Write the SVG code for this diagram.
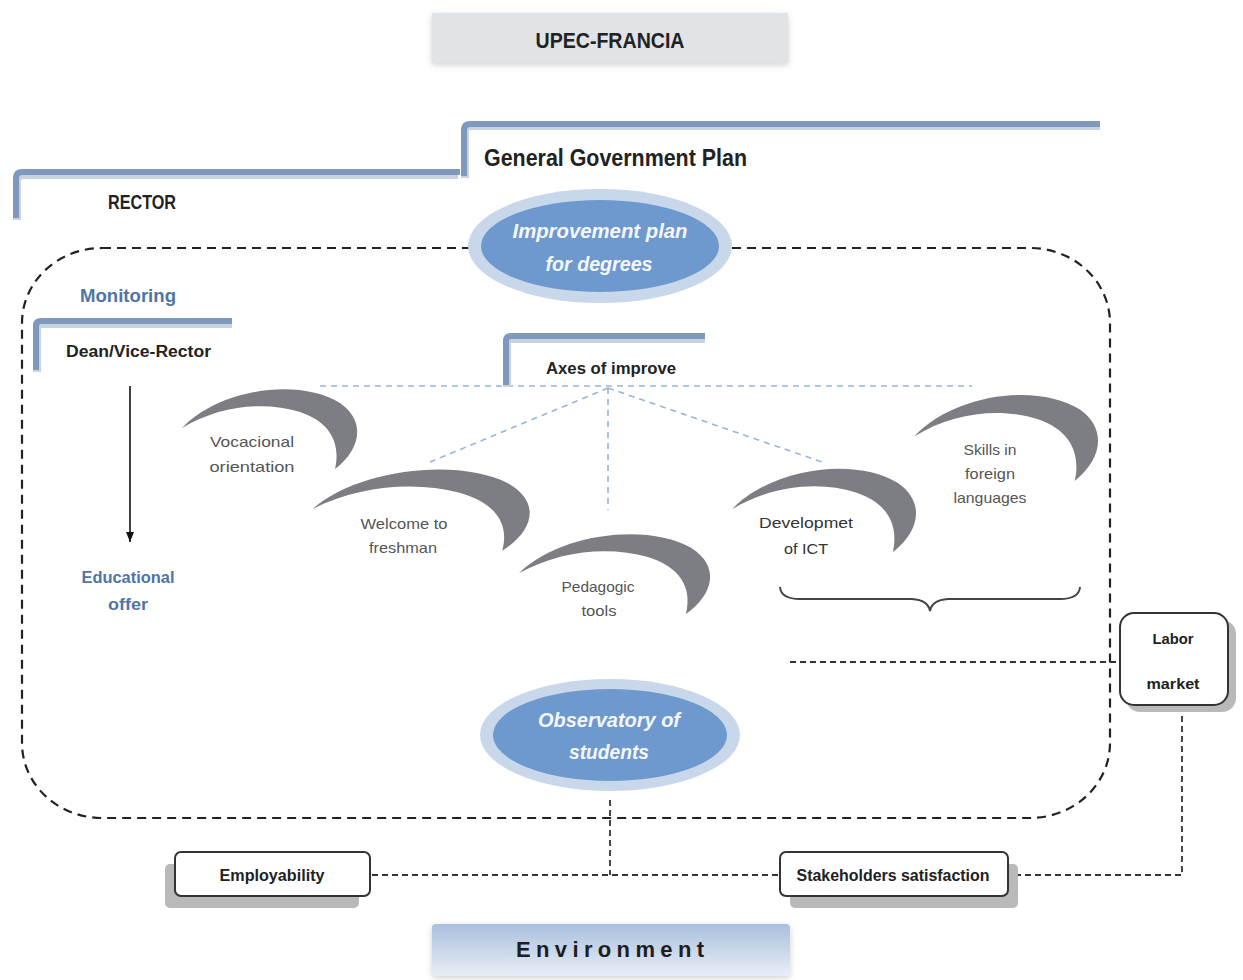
<svg xmlns="http://www.w3.org/2000/svg" width="1243" height="980" viewBox="0 0 1243 980">
  <style>
    .t { font-family: "Liberation Sans", Arial, sans-serif; }
    .hdr { font-weight: bold; fill: #222; }
    .blue { font-weight: bold; fill: #4f74a8; }
    .gray { fill: #555; font-size: 15px; }
    .ell { font-weight: bold; font-style: italic; fill: #f4f7fb; font-size: 21px; }
    .bracket { fill: none; stroke: #7f98bd; stroke-width: 6; stroke-linejoin: round; }
    .bshadow { fill: none; stroke: #c9d3e0; stroke-width: 8; stroke-linejoin: round; }
    .dash { fill: none; stroke: #222; stroke-width: 2.2; stroke-dasharray: 9 6; }
    .dashthin { fill: none; stroke: #333; stroke-width: 1.8; stroke-dasharray: 6 4; }
    .axis { fill: none; stroke: #98b4d8; stroke-width: 1.6; stroke-dasharray: 6 5; }
    .cres { fill: #7c7e83; }
    .box { fill: #fff; stroke: #333; stroke-width: 2; }
    .boxsh { fill: #b9b9b9; }
  </style>
  <defs>
    <marker id="arrow" viewBox="0 0 10 10" refX="10" refY="5" markerWidth="10" markerHeight="10" orient="auto" markerUnits="userSpaceOnUse">
      <path d="M0,1 L10,5 L0,9 Z" fill="#111"/>
    </marker>
    <path id="crescent" d="M 2,45 C 40,5 120,-5 160,20 C 186,38 181,66 155,86 C 161,60 150,39 120,29 C 85,18 40,22 2,45 Z"/>
    <linearGradient id="envGrad" x1="0" y1="0" x2="0" y2="1">
      <stop offset="0" stop-color="#a9bfdd"/>
      <stop offset="1" stop-color="#e8eef6"/>
    </linearGradient>
    <filter id="soft" x="-10%" y="-30%" width="120%" height="160%">
      <feDropShadow dx="0" dy="2" stdDeviation="3" flood-color="#999" flood-opacity="0.45"/>
    </filter>
  </defs>

  <rect width="1243" height="980" fill="#fff"/>

  <!-- connectors -->
  <g id="connectors">
    <!-- main boundary -->
    <rect class="dash" x="22" y="248" width="1088" height="570" rx="80" ry="75"/>
    <!-- axes of improvement fan -->
    <line class="axis" x1="320" y1="386" x2="972" y2="386"/>
    <line class="axis" x1="608" y1="388" x2="430" y2="462"/>
    <line class="axis" x1="608" y1="388" x2="608" y2="510"/>
    <line class="axis" x1="608" y1="388" x2="822" y2="462"/>
    <!-- dean to educational offer -->
    <line x1="130" y1="386" x2="130" y2="542" stroke="#111" stroke-width="1.6" marker-end="url(#arrow)"/>
    <!-- labor market -->
    <line class="dashthin" x1="790" y1="662" x2="1120" y2="662"/>
    <polyline class="dashthin" points="1182,706 1182,875 1010,875"/>
    <!-- observatory to outcomes -->
    <polyline class="dashthin" points="610,800 610,875"/>
    <line class="dashthin" x1="372" y1="875" x2="780" y2="875"/>
    <!-- brace -->
    <path d="M 780,587 Q 781,599 800,599 L 912,599 Q 928,600 930,611 Q 932,600 948,599 L 1060,599 Q 1079,599 1080,587" fill="none" stroke="#444" stroke-width="2"/>
  </g>

  <!-- header -->
  <g id="upec">
    <rect x="432" y="13" width="356" height="50" fill="#e1e4e7" filter="url(#soft)"/>
    <text class="t hdr" x="610" y="48" font-size="22" text-anchor="middle" textLength="149" lengthAdjust="spacingAndGlyphs">UPEC-FRANCIA</text>
  </g>

  <g id="general-plan">
    <path class="bshadow" d="M 465,178 L 465,131 Q 465,126 471,126 L 1100,126"/>
    <path class="bracket" d="M 464,176 L 464,130 Q 464,124 470,124 L 1100,124"/>
    <text class="t hdr" x="484" y="166" font-size="24" textLength="263" lengthAdjust="spacingAndGlyphs">General Government Plan</text>
  </g>

  <g id="rector">
    <path class="bshadow" d="M 17,220 L 17,181 Q 17,175 23,175 L 458,175"/>
    <path class="bracket" d="M 16,218 L 16,178 Q 16,172 22,172 L 460,172"/>
    <text class="t hdr" x="108" y="209" font-size="20" textLength="68" lengthAdjust="spacingAndGlyphs">RECTOR</text>
  </g>

  <g id="improvement-plan">
    <ellipse cx="600" cy="246" rx="132" ry="57" fill="#c9d7ea"/>
    <ellipse cx="600" cy="246" rx="119" ry="46" fill="#6e99cf"/>
    <text class="t ell" x="600" y="238" text-anchor="middle" textLength="175" lengthAdjust="spacingAndGlyphs">Improvement plan</text>
    <text class="t ell" x="599" y="271" text-anchor="middle" textLength="107" lengthAdjust="spacingAndGlyphs">for degrees</text>
  </g>

  <g id="monitoring">
    <text class="t blue" x="80" y="302" font-size="18" textLength="96" lengthAdjust="spacingAndGlyphs">Monitoring</text>
  </g>

  <g id="dean">
    <path class="bshadow" d="M 37,372 L 37,328 Q 37,324 42,324 L 232,324"/>
    <path class="bracket" d="M 36,370 L 36,326 Q 36,321 41,321 L 232,321"/>
    <text class="t hdr" x="66" y="357" font-size="16" textLength="145" lengthAdjust="spacingAndGlyphs">Dean/Vice-Rector</text>
  </g>

  <g id="educational-offer">
    <text class="t blue" x="128" y="583" font-size="17" text-anchor="middle" textLength="93" lengthAdjust="spacingAndGlyphs">Educational</text>
    <text class="t blue" x="128" y="610" font-size="17" text-anchor="middle" textLength="40" lengthAdjust="spacingAndGlyphs">offer</text>
  </g>

  <g id="axes">
    <path class="bshadow" d="M 507,387 L 507,343 Q 507,339 512,339 L 705,339"/>
    <path class="bracket" d="M 506,385 L 506,341 Q 506,336 511,336 L 705,336"/>
    <text class="t hdr" x="546" y="374" font-size="16" textLength="130" lengthAdjust="spacingAndGlyphs">Axes of improve</text>
  </g>

  <g id="vocacional">
    <use href="#crescent" class="cres" transform="translate(180,383)"/>
    <text class="t gray" x="252" y="447" text-anchor="middle" textLength="84" lengthAdjust="spacingAndGlyphs">Vocacional</text>
    <text class="t gray" x="252" y="472" text-anchor="middle" textLength="85" lengthAdjust="spacingAndGlyphs">orientation</text>
  </g>

  <g id="welcome">
    <use href="#crescent" class="cres" transform="translate(310,463) scale(1.24,1.02)"/>
    <text class="t gray" x="404" y="529" text-anchor="middle" textLength="87" lengthAdjust="spacingAndGlyphs">Welcome to</text>
    <text class="t gray" x="403" y="553" text-anchor="middle" textLength="68" lengthAdjust="spacingAndGlyphs">freshman</text>
  </g>

  <g id="pedagogic">
    <use href="#crescent" class="cres" transform="translate(517,528) scale(1.09,1.0)"/>
    <text class="t gray" x="598" y="592" text-anchor="middle" textLength="73" lengthAdjust="spacingAndGlyphs">Pedagogic</text>
    <text class="t gray" x="599" y="616" text-anchor="middle" textLength="35" lengthAdjust="spacingAndGlyphs">tools</text>
  </g>

  <g id="ict">
    <use href="#crescent" class="cres" transform="translate(730,462) scale(1.05,1.05)"/>
    <text class="t" x="806" y="528" font-size="15" fill="#333" text-anchor="middle" textLength="94" lengthAdjust="spacingAndGlyphs">Developmet</text>
    <text class="t" x="806" y="554" font-size="15" fill="#333" text-anchor="middle" textLength="44" lengthAdjust="spacingAndGlyphs">of ICT</text>
  </g>

  <g id="languages">
    <use href="#crescent" class="cres" transform="translate(912,388) scale(1.05,1.08)"/>
    <text class="t gray" x="990" y="455" text-anchor="middle" textLength="53" lengthAdjust="spacingAndGlyphs">Skills in</text>
    <text class="t gray" x="990" y="479" text-anchor="middle" textLength="50" lengthAdjust="spacingAndGlyphs">foreign</text>
    <text class="t gray" x="990" y="503" text-anchor="middle" textLength="73" lengthAdjust="spacingAndGlyphs">languages</text>
  </g>

  <g id="labor-market">
    <rect class="boxsh" x="1126" y="620" width="110" height="92" rx="14"/>
    <rect class="box" x="1120" y="613" width="108" height="92" rx="14"/>
    <text class="t hdr" x="1173" y="644" font-size="15" text-anchor="middle" textLength="41" lengthAdjust="spacingAndGlyphs">Labor</text>
    <text class="t hdr" x="1173" y="689" font-size="15" text-anchor="middle" textLength="53" lengthAdjust="spacingAndGlyphs">market</text>
  </g>

  <g id="observatory">
    <ellipse cx="610" cy="735" rx="130" ry="56" fill="#c9d7ea"/>
    <ellipse cx="610" cy="735" rx="117" ry="46" fill="#6e99cf"/>
    <text class="t ell" x="609" y="727" text-anchor="middle" textLength="142" lengthAdjust="spacingAndGlyphs">Observatory of</text>
    <text class="t ell" x="609" y="759" text-anchor="middle" textLength="80" lengthAdjust="spacingAndGlyphs">students</text>
  </g>

  <g id="employability">
    <rect class="boxsh" x="165" y="864" width="194" height="44" rx="5"/>
    <rect class="box" x="175" y="852" width="195" height="44" rx="6"/>
    <text class="t hdr" x="272" y="881" font-size="16" text-anchor="middle" textLength="105" lengthAdjust="spacingAndGlyphs">Employability</text>
  </g>

  <g id="stakeholders">
    <rect class="boxsh" x="790" y="864" width="228" height="44" rx="5"/>
    <rect class="box" x="780" y="852" width="228" height="44" rx="6"/>
    <text class="t hdr" x="893" y="881" font-size="16" text-anchor="middle" textLength="193" lengthAdjust="spacingAndGlyphs">Stakeholders satisfaction</text>
  </g>

  <g id="environment">
    <rect x="432" y="924" width="358" height="52" rx="4" fill="url(#envGrad)" filter="url(#soft)"/>
    <text class="t" x="610" y="957" font-size="22" font-weight="bold" fill="#1e1e1e" text-anchor="middle" textLength="188" lengthAdjust="spacing">Environment</text>
  </g>
</svg>
